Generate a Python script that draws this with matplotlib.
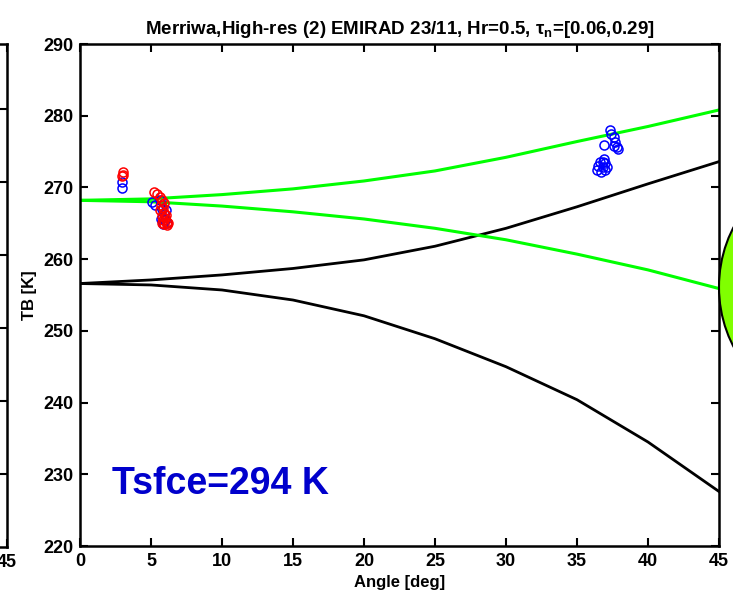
import matplotlib

matplotlib.use("Agg")
import matplotlib.pyplot as plt
from matplotlib.patches import Ellipse

# model brightness temperatures vs incidence angle
angles = [0, 5, 10, 15, 20, 25, 30, 35, 40, 45]
tb_v_bare = [256.6, 257.1, 257.8, 258.7, 259.9, 261.8, 264.3, 267.3, 270.5, 273.6]
tb_h_bare = [256.6, 256.4, 255.7, 254.3, 252.1, 248.9, 245.0, 240.4, 234.5, 227.6]
tb_v_veg = [268.2, 268.4, 269.0, 269.8, 270.9, 272.3, 274.2, 276.4, 278.5, 280.8]
tb_h_veg = [268.2, 268.0, 267.4, 266.6, 265.6, 264.3, 262.7, 260.7, 258.5, 255.9]

# EMIRAD observations
obs_v_ang = [2.95, 2.95, 5.1, 5.3, 5.6, 5.75, 5.9, 5.7, 6.0, 5.85, 6.15, 6.05,
             37.3, 37.4, 37.6, 36.9, 37.7, 37.6, 37.9, 37.8, 36.6, 36.4, 36.8,
             37.0, 36.7, 36.9, 37.1, 36.5, 36.8, 37.0]
obs_v_tb = [270.8, 269.9, 268.0, 267.5, 268.3, 267.0, 266.3, 265.6, 265.5, 264.9, 265.0, 266.8,
            278.0, 277.4, 277.1, 275.9, 276.4, 275.8, 275.3, 275.6, 273.6, 272.4, 272.9,
            273.4, 272.2, 273.9, 272.8, 273.0, 273.5, 272.5]
obs_h_ang = [3.0, 2.95, 3.05, 5.2, 5.45, 5.6, 5.75, 5.7, 5.85, 5.65, 5.9, 5.75, 6.0,
             5.85, 6.1, 5.95, 6.2, 5.8, 6.05, 5.9, 6.1]
obs_h_tb = [272.1, 271.6, 271.8, 269.4, 269.1, 268.6, 268.2, 267.6, 267.2, 266.8, 266.5, 266.0,
            265.8, 265.4, 265.2, 264.9, 265.0, 265.1, 266.2, 267.8, 264.8]

x_ticks = [0, 5, 10, 15, 20, 25, 30, 35, 40, 45]
y_ticks = [220, 230, 240, 250, 260, 270, 280, 290]

plt.rcParams["font.family"] = ["Liberation Sans", "DejaVu Sans"]
plt.rcParams["font.weight"] = "bold"
plt.rcParams["xtick.direction"] = "in"
plt.rcParams["ytick.direction"] = "in"

W, H = 733, 597
fig = plt.figure(figsize=(W / 100, H / 100), dpi=100)


def px_axes(x0, y0, x1, y1):
    return fig.add_axes([x0 / W, 1 - y1 / H, (x1 - x0) / W, (y1 - y0) / H])


# neighbouring panel, only its right edge shows
ax_l = px_axes(7 - 639, 44, 7, 547)
ax_l.set_xlim(0, 45)
ax_l.set_ylim(0, 68.9)
ax_l.set_xticks(x_ticks)
ax_l.set_xticklabels([""] * (len(x_ticks) - 1) + ["45"])
ax_l.set_yticks([10, 20, 30, 40, 50, 60])
ax_l.set_yticklabels([])
ax_l.tick_params(length=6, width=1.5, labelsize=13, top=True, right=True, pad=5)
for s in ax_l.spines.values():
    s.set_linewidth(1.8)

ax = px_axes(80, 44, 719, 546)
ax.plot(angles, tb_v_bare, color="black", lw=2)
ax.plot(angles, tb_h_bare, color="black", lw=2)
ax.plot(angles, tb_v_veg, color="#00ff00", lw=2.2)
ax.plot(angles, tb_h_veg, color="#00ff00", lw=2.2)
ax.plot(obs_v_ang, obs_v_tb, "o", mfc="none", mec="#0000ff", ms=6.5, mew=1.1)
ax.plot(obs_h_ang, obs_h_tb, "o", mfc="none", mec="#ff0000", ms=6.5, mew=1.1)

ax.text(2.25, 228.6, "Tsfce=294 K", color="#0000cc", fontsize=27,
        fontweight="bold", ha="left", va="center")

ax.set_xlim(0, 45)
ax.set_ylim(220, 290)
ax.set_xticks(x_ticks)
ax.set_yticks(y_ticks)
ax.tick_params(length=6, width=1.5, labelsize=13, top=True, right=True, pad=5)
for s in ax.spines.values():
    s.set_linewidth(1.8)
ax.set_xlabel("Angle [deg]", fontsize=12, fontweight="bold", labelpad=4)
ax.set_ylabel("TB [K]", fontsize=12, fontweight="bold", labelpad=4)
ax.set_title(r"Merriwa,High-res (2) EMIRAD 23/11, Hr=0.5, $\mathregular{\tau_n}$=[0.06,0.29]",
             fontsize=13.5, fontweight="bold", pad=7,
             family=["Liberation Sans Narrow", "Liberation Sans", "DejaVu Sans"])

# green callout bubble sitting against the right spine
bubble = Ellipse((8.19, 3.10), 2.0, 2.3, transform=fig.dpi_scale_trans,
                 facecolor="#80ff00", edgecolor="black", lw=1.5, clip_on=False)
fig.add_artist(bubble)

fig.savefig("out.png", dpi=100)
